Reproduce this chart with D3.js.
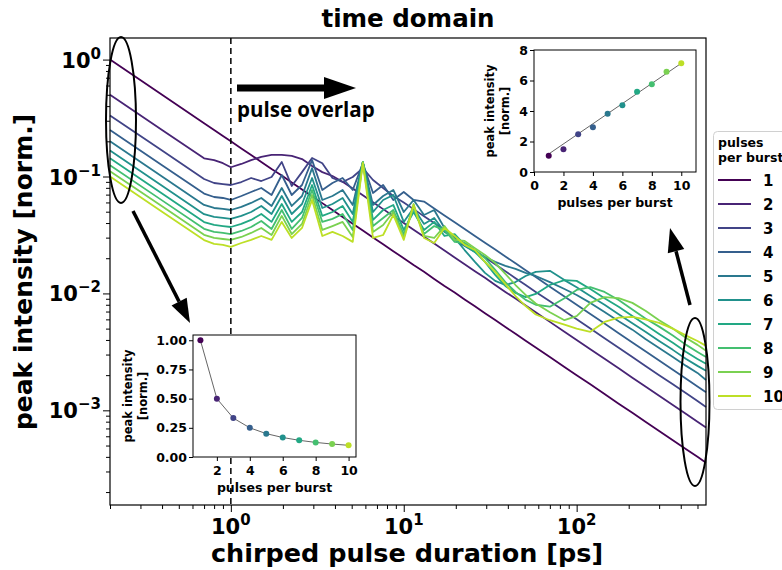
<!DOCTYPE html>
<html>
<head>
<meta charset="utf-8">
<script src="https://cdn.jsdelivr.net/npm/d3@7/dist/d3.min.js"></script>
<style>
  body { margin: 0; background: white; }
  svg text { font-family: "DejaVu Sans", sans-serif; font-weight: bold; }
</style>
</head>
<body>
<script>
// chirped pulse duration [ps]
let tau = [0.2, 0.4, 0.7, 0.8, 0.9, 1.0,
  1.15, 1.31, 1.5, 1.72, 1.97, 2.25, 2.58, 2.95, 3.38, 3.87,
  4.43, 5.07, 5.8, 6.64, 7.6, 8.7, 10, 11.4, 13.1, 15,
  17.2, 19.7, 22.5, 25.8, 29.5, 33.8, 38.7, 44.3, 50.7,
  58, 70, 85, 100, 120, 145, 175, 210, 250, 300,
  360, 430, 500, 560]

// peak intensity [norm.] for 1..10 pulses per burst
let burst1 = [1.0, 0.5, 0.286, 0.25, 0.222, 0.2,
  0.174, 0.153, 0.133, 0.116, 0.102, 0.0889, 0.0775, 0.0678, 0.0592, 0.0517,
  0.0451, 0.0394, 0.0345, 0.0301, 0.0263, 0.023, 0.02, 0.0175, 0.0153, 0.0133,
  0.0116, 0.0102, 0.00889, 0.00775, 0.00678, 0.00592, 0.00517, 0.00451, 0.00394,
  0.00345, 0.00286, 0.00235, 0.002, 0.00167, 0.00138, 0.00114, 0.000952, 0.0008, 0.000667,
  0.000556, 0.000465, 0.0004, 0.000357]
let burst2 = [0.5, 0.25, 0.143, 0.138, 0.130, 0.120,
  0.128, 0.138, 0.147, 0.153, 0.153, 0.150, 0.141, 0.123, 0.109, 0.101,
  0.0903, 0.0789, 0.069, 0.0602, 0.0526, 0.046, 0.04, 0.0351, 0.0305, 0.0267,
  0.0233, 0.0203, 0.0178, 0.0155, 0.0136, 0.0118, 0.0103, 0.00903, 0.00789,
  0.0069, 0.00571, 0.00471, 0.004, 0.00333, 0.00276, 0.00229, 0.0019, 0.0016, 0.00133,
  0.00111, 0.00093, 0.0008, 0.000714]
let burst3 = [0.333, 0.167, 0.0952, 0.088, 0.0862, 0.0846,
  0.0897, 0.0971, 0.0915, 0.099, 0.133, 0.083, 0.109, 0.144, 0.130, 0.0971,
  0.0897, 0.099, 0.118, 0.0933, 0.0798, 0.0681, 0.06, 0.0526, 0.0458, 0.04,
  0.0349, 0.0305, 0.0267, 0.0233, 0.0203, 0.0178, 0.0155, 0.0135, 0.0118,
  0.0103, 0.00857, 0.00706, 0.006, 0.005, 0.00414, 0.00343, 0.00286, 0.0024, 0.002,
  0.00167, 0.0014, 0.0012, 0.00107]
let burst4 = [0.25, 0.125, 0.0714, 0.0668, 0.0655, 0.063,
  0.0681, 0.0737, 0.0798, 0.0695, 0.103, 0.0695, 0.0846, 0.138, 0.0767, 0.088,
  0.0971, 0.0767, 0.130, 0.0723, 0.0846, 0.063, 0.0737, 0.063, 0.0611, 0.0533,
  0.0465, 0.0406, 0.0356, 0.031, 0.0271, 0.0237, 0.0207, 0.0181, 0.0158,
  0.0138, 0.0114, 0.00941, 0.008, 0.00667, 0.00552, 0.00457, 0.00381, 0.0032, 0.00267,
  0.00222, 0.00186, 0.0016, 0.00143]
let burst5 = [0.2, 0.1, 0.0571, 0.0538, 0.0528, 0.0517,
  0.0549, 0.0594, 0.0655, 0.056, 0.0798, 0.056, 0.0681, 0.118, 0.063, 0.0681,
  0.0767, 0.0571, 0.133, 0.0571, 0.0681, 0.0767, 0.0497, 0.063, 0.0469, 0.0517,
  0.0363, 0.0287, 0.0255, 0.0226, 0.0205, 0.0186, 0.0172, 0.0162, 0.015,
  0.0141, 0.0125, 0.0109, 0.0097, 0.0083, 0.00692, 0.00578, 0.0049, 0.00407, 0.00342,
  0.00286, 0.0024, 0.00209, 0.00182]
let burst6 = [0.167, 0.0833, 0.0476, 0.0451, 0.0442, 0.0434,
  0.046, 0.0497, 0.056, 0.0478, 0.0681, 0.0478, 0.0582, 0.0971, 0.0538, 0.0582,
  0.0655, 0.0478, 0.133, 0.0497, 0.063, 0.0695, 0.0409, 0.0538, 0.0393, 0.0442,
  0.0336, 0.0298, 0.0235, 0.0186, 0.015, 0.0128, 0.0118, 0.0125, 0.0141,
  0.0153, 0.0156, 0.013, 0.0113, 0.0095, 0.008, 0.00665, 0.00556, 0.00471, 0.00392,
  0.00329, 0.00275, 0.0024, 0.00218]
let burst7 = [0.143, 0.0714, 0.0408, 0.0385, 0.0377, 0.037,
  0.0393, 0.0425, 0.0478, 0.0409, 0.0582, 0.0409, 0.0497, 0.0846, 0.046, 0.0497,
  0.056, 0.0409, 0.133, 0.0425, 0.0517, 0.0571, 0.0349, 0.0497, 0.0349, 0.0409,
  0.031, 0.0322, 0.026, 0.0226, 0.0186, 0.0144, 0.0116, 0.0101, 0.0093,
  0.0099, 0.0118, 0.013, 0.0128, 0.0109, 0.0091, 0.0077, 0.0064, 0.0054, 0.0045,
  0.00378, 0.00316, 0.00275, 0.0025]
let burst8 = [0.125, 0.0625, 0.0357, 0.0336, 0.0329, 0.0322,
  0.0342, 0.037, 0.0417, 0.0356, 0.0517, 0.0356, 0.0442, 0.0767, 0.0409, 0.0434,
  0.0478, 0.0349, 0.133, 0.0377, 0.0442, 0.0517, 0.0322, 0.0538, 0.0322, 0.0377,
  0.0349, 0.0276, 0.027, 0.0235, 0.0201, 0.0159, 0.0125, 0.0103, 0.0088,
  0.008, 0.0077, 0.0091, 0.0107, 0.0113, 0.0103, 0.0088, 0.0073, 0.0061, 0.0052,
  0.00436, 0.00363, 0.00316, 0.00286]
let burst9 = [0.111, 0.0556, 0.0317, 0.0298, 0.0292, 0.0287,
  0.0304, 0.0329, 0.0363, 0.0316, 0.046, 0.0322, 0.0393, 0.0695, 0.0349, 0.0377,
  0.0409, 0.0304, 0.133, 0.0336, 0.0385, 0.0497, 0.0298, 0.0582, 0.031, 0.0298,
  0.0377, 0.0287, 0.0281, 0.0244, 0.0213, 0.0182, 0.0147, 0.0118, 0.0097,
  0.0082, 0.0069, 0.0059, 0.0064, 0.0083, 0.0093, 0.0091, 0.0083, 0.0071, 0.0059,
  0.005, 0.00415, 0.00363, 0.00323]
let burst10 = [0.1, 0.05, 0.0286, 0.0265, 0.026, 0.025,
  0.027, 0.0287, 0.031, 0.0287, 0.0409, 0.0298, 0.0363, 0.063, 0.031, 0.0336,
  0.031, 0.0276, 0.130, 0.0298, 0.0316, 0.0469, 0.0287, 0.0571, 0.0298, 0.027,
  0.0363, 0.031, 0.026, 0.0235, 0.0186, 0.0153, 0.012, 0.0095, 0.0078,
  0.0066, 0.0059, 0.0054, 0.005, 0.0047, 0.0057, 0.0062, 0.0063, 0.006, 0.0056,
  0.005, 0.00436, 0.00392, 0.00356]
let series = [burst1, burst2, burst3, burst4, burst5, burst6, burst7, burst8, burst9, burst10]

// insets
let pulses = [1, 2, 3, 4, 5, 6, 7, 8, 9, 10]
let shortChirpPeak = [1.0, 0.5, 0.333, 0.25, 0.2, 0.167, 0.143, 0.125, 0.111, 0.1]
let longChirpPeak = [1.07, 1.49, 2.47, 2.93, 3.82, 4.37, 5.27, 5.75, 6.58, 7.13]
let fitPulses = [1, 10]
let fitPeak = [1.18, 7.13]

let xMajor = [1, 10, 100]
let yMajor = [1e-3, 1e-2, 1e-1, 1]
let shortTicksX = [2, 4, 6, 8, 10]
let shortTicksY = [0, 0.25, 0.5, 0.75, 1]
let longTicksX = [0, 2, 4, 6, 8, 10]
let longTicksY = [0, 2, 4, 6, 8]

let frame = { left: 110, right: 706, top: 38, bottom: 505 }
let lineColor = i => d3.interpolateViridis(i / 10)

let svg = d3.select('body').append('svg')
  .attr('width', 782)
  .attr('height', 570)

let x = d3.scaleLog().domain([0.2, 560]).range([frame.left, frame.right])
let y = d3.scaleLog().domain([1.55e-4, 1.53]).range([frame.bottom, frame.top])

let isMajor = d => Math.abs(Math.log10(d) - Math.round(Math.log10(d))) < 1e-9

// burst curves
let line = d3.line().x((d, i) => x(tau[i])).y(d => y(d))
svg.append('g').selectAll('path')
  .data(series)
  .join('path')
  .attr('d', line)
  .attr('fill', 'none')
  .attr('stroke', (d, i) => lineColor(i))
  .attr('stroke-width', 1.8)
  .attr('stroke-linejoin', 'round')

// dashed line at 1 ps
svg.append('line')
  .attr('x1', x(1)).attr('x2', x(1))
  .attr('y1', frame.top).attr('y2', frame.bottom)
  .attr('stroke', 'black')
  .attr('stroke-width', 1.5)
  .attr('stroke-dasharray', '6,4')

// ticks
let tickAxis = (axis, transform, values, size) =>
  svg.append('g')
    .attr('transform', transform)
    .call(axis.tickValues(values).tickSize(size).tickFormat(''))
    .call(g => g.select('.domain').remove())

tickAxis(d3.axisBottom(x), `translate(0,${frame.bottom})`, xMajor, 7)
tickAxis(d3.axisBottom(x), `translate(0,${frame.bottom})`, x.ticks().filter(d => !isMajor(d)), 4)
tickAxis(d3.axisLeft(y), `translate(${frame.left},0)`, yMajor, 7)
tickAxis(d3.axisLeft(y), `translate(${frame.left},0)`, y.ticks().filter(d => !isMajor(d)), 4)

let powLabel = (text, d) => {
  let e = Math.round(Math.log10(d))
  text.append('tspan').text('10')
  text.append('tspan').attr('dy', -9).attr('font-size', 15).text(e < 0 ? '\u2212' + (-e) : e)
}

svg.append('g').selectAll('text')
  .data(xMajor)
  .join('text')
  .attr('x', d => x(d))
  .attr('y', 534)
  .attr('text-anchor', 'middle')
  .attr('font-size', 21)
  .each(function (d) { powLabel(d3.select(this), d) })

svg.append('g').selectAll('text')
  .data(yMajor)
  .join('text')
  .attr('x', 101)
  .attr('y', d => y(d) + 8)
  .attr('text-anchor', 'end')
  .attr('font-size', 21)
  .each(function (d) { powLabel(d3.select(this), d) })

svg.append('rect')
  .attr('x', frame.left).attr('y', frame.top)
  .attr('width', frame.right - frame.left)
  .attr('height', frame.bottom - frame.top)
  .attr('fill', 'none')
  .attr('stroke', 'black')
  .attr('stroke-width', 1.2)

// titles
svg.append('text')
  .attr('x', 408).attr('y', 27)
  .attr('text-anchor', 'middle')
  .attr('font-size', 24.5)
  .text('time domain')

svg.append('text')
  .attr('x', 407).attr('y', 562)
  .attr('text-anchor', 'middle')
  .attr('font-size', 25.5)
  .text('chirped pulse duration [ps]')

svg.append('text')
  .attr('transform', 'translate(32,272) rotate(-90)')
  .attr('text-anchor', 'middle')
  .attr('font-size', 25)
  .text('peak intensity [norm.]')

// annotations
let arrow = (x1, y1, x2, y2, width, headLen, headWidth) => {
  let a = Math.atan2(y2 - y1, x2 - x1)
  let bx = x2 - headLen * Math.cos(a), by = y2 - headLen * Math.sin(a)
  let nx = -Math.sin(a) * headWidth / 2, ny = Math.cos(a) * headWidth / 2
  svg.append('line')
    .attr('x1', x1).attr('y1', y1).attr('x2', bx).attr('y2', by)
    .attr('stroke', 'black')
    .attr('stroke-width', width)
  svg.append('path')
    .attr('d', 'M ' + x2 + ' ' + y2 + ' L ' + (bx + nx) + ' ' + (by + ny) + ' L ' + (bx - nx) + ' ' + (by - ny) + ' Z')
    .attr('fill', 'black')
}

arrow(237, 88, 356, 88, 7, 32, 22)
svg.append('text')
  .attr('x', 237).attr('y', 117)
  .attr('font-size', 20.5)
  .style('font-family', '"Open Sans", sans-serif')
  .text('pulse overlap')

let ellipse = (cx, cy, rx, ry) =>
  svg.append('ellipse')
    .attr('cx', cx).attr('cy', cy).attr('rx', rx).attr('ry', ry)
    .attr('fill', 'none')
    .attr('stroke', 'black')
    .attr('stroke-width', 2)

ellipse(121, 120, 15, 83)
ellipse(695, 402, 14.5, 84)
arrow(133, 211, 190, 323, 3.5, 24, 17)
arrow(690, 305, 670, 228, 3.5, 24, 17)

// insets
let drawInset = opt => {
  let sx = d3.scaleLinear().domain(opt.xDomain).range([opt.left, opt.right])
  let sy = d3.scaleLinear().domain(opt.yDomain).range([opt.bottom, opt.top])
  let g = svg.append('g')

  g.append('rect')
    .attr('x', opt.left).attr('y', opt.top)
    .attr('width', opt.right - opt.left).attr('height', opt.bottom - opt.top)
    .attr('fill', 'white')

  g.append('path')
    .attr('d', d3.line().x((d, i) => sx(d)).y((d, i) => sy(opt.lineY[i]))(opt.lineX))
    .attr('fill', 'none')
    .attr('stroke', '#666')
    .attr('stroke-width', 1)

  g.append('g').selectAll('circle')
    .data(pulses)
    .join('circle')
    .attr('cx', d => sx(d))
    .attr('cy', (d, i) => sy(opt.values[i]))
    .attr('r', 3)
    .attr('fill', (d, i) => lineColor(i))

  g.append('rect')
    .attr('x', opt.left).attr('y', opt.top)
    .attr('width', opt.right - opt.left).attr('height', opt.bottom - opt.top)
    .attr('fill', 'none')
    .attr('stroke', 'black')
    .attr('stroke-width', 1)

  g.append('g')
    .attr('transform', `translate(0,${opt.bottom})`)
    .call(d3.axisBottom(sx).tickValues(opt.xTicks).tickSize(4).tickSizeOuter(0).tickPadding(5))
    .call(a => a.select('.domain').remove())
    .attr('font-size', 12.5)

  g.append('g')
    .attr('transform', `translate(${opt.left},0)`)
    .call(d3.axisLeft(sy).tickValues(opt.yTicks).tickFormat(opt.yFormat).tickSize(4).tickSizeOuter(0).tickPadding(2))
    .call(a => a.select('.domain').remove())
    .attr('font-size', 12.5)

  g.append('text')
    .attr('x', (opt.left + opt.right) / 2).attr('y', opt.bottom + 35)
    .attr('text-anchor', 'middle')
    .attr('font-size', 12.5)
    .text('pulses per burst')

  let cy = (opt.top + opt.bottom) / 2
  g.append('text')
    .attr('transform', `translate(${opt.labelX},${cy}) rotate(-90)`)
    .attr('text-anchor', 'middle')
    .attr('font-size', 11.5)
    .text('peak intensity')
  g.append('text')
    .attr('transform', `translate(${opt.labelX + 15},${cy}) rotate(-90)`)
    .attr('text-anchor', 'middle')
    .attr('font-size', 11.5)
    .text('[norm.]')
}

drawInset({
  left: 193, right: 356, top: 335, bottom: 457,
  xDomain: [0.55, 10.45], yDomain: [0, 1.045],
  xTicks: shortTicksX, yTicks: shortTicksY, yFormat: d3.format('.2f'),
  values: shortChirpPeak, lineX: pulses, lineY: shortChirpPeak,
  labelX: 132
})

drawInset({
  left: 534, right: 696, top: 50, bottom: 172,
  xDomain: [0, 11], yDomain: [0, 8],
  xTicks: longTicksX, yTicks: longTicksY, yFormat: d3.format('d'),
  values: longChirpPeak, lineX: fitPulses, lineY: fitPeak,
  labelX: 494
})

// legend
let legend = svg.append('g')
legend.append('rect')
  .attr('x', 713.5).attr('y', 131.5)
  .attr('width', 100).attr('height', 278)
  .attr('rx', 4)
  .attr('fill', 'white')
  .attr('stroke', '#d0d0d0')

legend.append('text').attr('x', 718).attr('y', 147).attr('font-size', 12.5).text('pulses')
legend.append('text').attr('x', 718).attr('y', 162).attr('font-size', 12.5).text('per burst')

let entry = legend.selectAll('.entry')
  .data(pulses)
  .join('g')
  .attr('transform', (d, i) => `translate(0,${180 + i * 24})`)

entry.append('line')
  .attr('x1', 718).attr('x2', 751)
  .attr('stroke', (d, i) => lineColor(i))
  .attr('stroke-width', 2)

entry.append('text')
  .attr('x', 763).attr('y', 5.5)
  .attr('font-size', 15)
  .text(d => d)
</script>
</body>
</html>
